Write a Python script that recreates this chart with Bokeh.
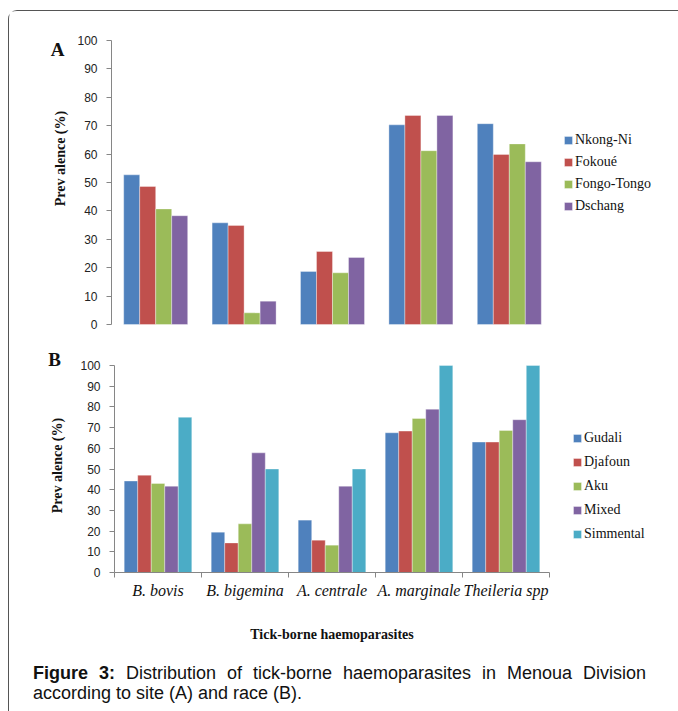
import math
from bokeh.plotting import figure
from bokeh.models import Range1d, FixedTicker, Legend, LegendItem, Label, Div, ColumnDataSource
from bokeh.layouts import column
from bokeh.embed import file_html
from bokeh.resources import INLINE

# ---------------- data ----------------
parasites = ["B. bovis", "B. bigemina", "A. centrale", "A. marginale", "Theileria spp"]

sites = ["Nkong-Ni", "Fokoué", "Fongo-Tongo", "Dschang"]
nkong_ni = [52.7, 35.8, 18.7, 70.3, 70.7]
fokoue = [48.6, 34.9, 25.7, 73.6, 59.9]
fongo_tongo = [40.7, 4.1, 18.2, 61.2, 63.6]
dschang = [38.3, 8.2, 23.6, 73.6, 57.3]

races = ["Gudali", "Djafoun", "Aku", "Mixed", "Simmental"]
gudali = [44.2, 19.5, 25.3, 67.5, 63.0]
djafoun = [47.0, 14.3, 15.6, 68.3, 63.0]
aku = [43.0, 23.5, 13.2, 74.4, 68.6]
mixed = [41.7, 57.8, 41.7, 78.9, 73.8]
simmental = [75.0, 50.0, 50.0, 100.0, 100.0]

y_ticks = [0, 10, 20, 30, 40, 50, 60, 70, 80, 90, 100]

COLORS = ["#4F81BD", "#C0504D", "#9BBB59", "#8064A2", "#4BACC6"]
SERIF = "Liberation Serif"
SANS = "Liberation Sans"
AXIS_GRAY = "#868686"
N = len(parasites)
Y_MAX = 100


def make_fig(width, height, px_left, px_right, px_top, px_bottom):
    """Figure whose frame fills the canvas; the data box [0,N]x[0,100]
    sits px_left/px_right/px_top/px_bottom pixels inside the canvas edges."""
    ux = (width - px_left - px_right) / N
    uy = (height - px_top - px_bottom) / Y_MAX
    p = figure(width=width, height=height,
               x_range=Range1d(-px_left / ux, N + px_right / ux),
               y_range=Range1d(-px_bottom / uy, Y_MAX + px_top / uy),
               output_backend="svg", toolbar_location=None, min_border=0)
    p.grid.visible = False
    p.outline_line_color = None
    ax = p.yaxis[0]
    ax.fixed_location = 0
    ax.bounds = (0, Y_MAX)
    ax.ticker = FixedTicker(ticks=y_ticks, minor_ticks=[])
    ax.axis_line_color = AXIS_GRAY
    ax.major_tick_line_color = AXIS_GRAY
    ax.major_tick_out = 5
    ax.major_tick_in = 0
    ax.minor_tick_line_color = None
    ax.major_label_text_font = SANS
    ax.major_label_text_font_size = "12px"
    ax.major_label_text_color = "#222222"
    ax.major_label_standoff = 9
    return p


def add_bars(p, names, series, group_frac):
    n = len(names)
    w = group_frac / n
    renderers = []
    for j, (name, vals) in enumerate(zip(names, series)):
        xs = [i + 0.5 + (j - (n - 1) / 2) * w for i in range(N)]
        src = ColumnDataSource(dict(x=xs, top=vals))
        r = p.vbar(x="x", top="top", width=w, bottom=0, source=src,
                   fill_color=COLORS[j], line_color="white", line_alpha=0.35, line_width=1)
        renderers.append((name, r))
    return renderers


def add_legend(p, renderers, loc, pitch):
    items = [LegendItem(label=name, renderers=[r]) for name, r in renderers]
    lg = Legend(items=items, location=loc, orientation="vertical",
                label_text_font=SERIF, label_text_font_size="14px", label_text_color="#111111",
                glyph_width=10, glyph_height=10, label_height=10, label_standoff=2,
                spacing=pitch, padding=0, margin=0,
                border_line_color=None, background_fill_alpha=0)
    p.add_layout(lg)


def text_label(text, x, y, size="14px", angle=0.0):
    return Label(x=x, y=y, x_units="screen", y_units="screen", text=text, angle=angle,
                 text_align="center", text_baseline="middle", text_font=SERIF,
                 text_font_style="bold", text_font_size=size, text_color="#111111")


# ---------------- panel A ----------------
pA = make_fig(660, 334, px_left=102, px_right=116, px_top=29, px_bottom=21)
pA.xaxis.visible = False
rA = add_bars(pA, sites, [nkong_ni, fokoue, fongo_tongo, dschang], 0.724)
add_legend(pA, rA, (554, 131), 6)
pA.add_layout(text_label("A", 48, 296, size="19px"))
pA.add_layout(text_label("Prev alence (%)", 51, 187, angle=math.pi / 2))

# ---------------- panel B ----------------
pB = make_fig(660, 305, px_left=105, px_right=120, px_top=20, px_bottom=78)
xa = pB.xaxis[0]
xa.fixed_location = 0
xa.bounds = (0, N)
xa.ticker = FixedTicker(ticks=[i + 0.5 for i in range(N)], minor_ticks=list(range(N + 1)))
xa.major_label_overrides = {i + 0.5: name for i, name in enumerate(parasites)}
xa.axis_line_color = AXIS_GRAY
xa.major_tick_line_color = None
xa.major_tick_out = 5
xa.major_tick_in = 0
xa.minor_tick_line_color = AXIS_GRAY
xa.minor_tick_out = 5
xa.minor_tick_in = 0
xa.major_label_text_font = SERIF
xa.major_label_text_font_style = "italic"
xa.major_label_text_font_size = "16px"
xa.major_label_text_color = "#111111"
xa.major_label_standoff = 4
xa.axis_label = "Tick-borne haemoparasites"
xa.axis_label_text_font = SERIF
xa.axis_label_text_font_style = "bold"
xa.axis_label_text_font_size = "14px"
xa.axis_label_text_color = "#111111"
xa.axis_label_standoff = 25
rB = add_bars(pB, races, [gudali, djafoun, aku, mixed, simmental], 0.777)
add_legend(pB, rB, (563, 108), 8)
pB.add_layout(text_label("B", 45, 291, size="19px"))
pB.add_layout(text_label("Prev alence (%)", 48, 185, angle=math.pi / 2))

# ---------------- caption ----------------
caption_html = (
    "<div style=\"padding:8px 0 0 19px; width:632px; font-family:'Liberation Sans', Arial, sans-serif;"
    " font-size:18px; line-height:20px; color:#111;\">"
    "<div style=\"text-align:justify; text-align-last:justify;\"><b>Figure 3:</b> Distribution of "
    "tick-borne haemoparasites in Menoua Division</div>"
    "<div>according to site (A) and race (B).</div></div>"
)
cap = Div(text=caption_html, width=660, height=60)

layout = column(pA, pB, cap, spacing=0,
                styles={"border-left": "1px solid #555555", "border-top": "1px solid #555555",
                        "border-top-left-radius": "9px", "margin-top": "10px", "margin-left": "8px"})

open("out.html", "w").write(file_html(layout, INLINE))
